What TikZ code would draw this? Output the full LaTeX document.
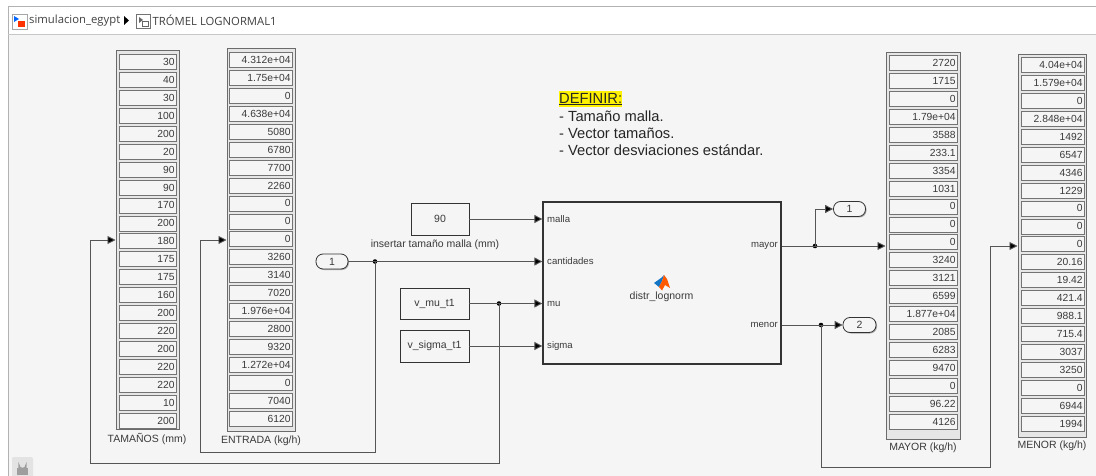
\documentclass[tikz,border=0pt]{standalone}
\usepackage{fontspec}
\setmainfont{Liberation Sans}
\newfontfamily\crumbfont{Open Sans}
\usetikzlibrary{arrows.meta,shadows,calc}
\definecolor{canvasbg}{HTML}{F5F5F5}
\definecolor{inktext}{HTML}{3A3A3A}
\definecolor{wirecol}{HTML}{555555}
\tikzset{
  wire/.style={draw=wirecol,line width=0.9pt},
  arrowwire/.style={wire,-{Triangle[length=8pt,width=8pt,fill=black]}},
  dotn/.style={circle,fill=black,inner sep=0pt,minimum size=4.6pt},
  blockbox/.style={draw=black!80,line width=0.8pt,fill=canvasbg,inner sep=0pt,
    drop shadow={shadow xshift=1pt,shadow yshift=-1pt,fill=black!40,opacity=.8}},
  mainbox/.style={blockbox,line width=1.3pt},
  portbox/.style={blockbox,rounded corners=7pt},
  dispbox/.style={draw=black!58,line width=1pt,fill=canvasbg!94!black,inner sep=0pt,
    drop shadow={shadow xshift=1pt,shadow yshift=-1pt,fill=black!40,opacity=.8}},
  cellbox/.style={draw=black!55,line width=0.7pt,fill=canvasbg,inner sep=0pt},
  valtext/.style={font=\fontsize{10.3}{12}\selectfont,text=inktext,inner sep=0pt,anchor=east},
  smalltext/.style={font=\fontsize{10.5}{12}\selectfont,text=inktext,inner sep=0pt},
  porttext/.style={font=\fontsize{9.6}{12}\selectfont,text=inktext,inner sep=0pt},
  notetext/.style={font=\fontsize{14.7}{17}\selectfont,text=black!85,inner sep=0pt,anchor=west},
  crumbtext/.style={font=\crumbfont\fontsize{11.3}{14}\selectfont,text=black!75,inner sep=0pt,anchor=west},
}
% name, x1, x2, y1, y2, cell x1, cell x2, first centre, values
\newcommand\displayblock[9]{%
  \node[dispbox,minimum width=#3pt-#2pt,minimum height=#5pt-#4pt] (#1) at ({(#2+#3)/2},{(#4+#5)/2}) {};
  \pgfmathsetmacro\cellmid{(#6+#7)/2}
  \pgfmathsetmacro\cellw{#7-#6}
  \foreach \v [count=\i] in {#9} {
    \node[cellbox,minimum width=\cellw pt,minimum height=15pt] (#1-\i) at (\cellmid,{#8+(\i-1)*17.93}) {};
    \node[valtext] (#1-t\i) at ($(#1-\i.east)+(-1.5pt,0)$) {\v};
  }
}
\begin{document}
\begin{tikzpicture}[x=1pt,y=-1pt]
\useasboundingbox (0,0) rectangle (1096,476);
\fill[white] (0,0) rectangle (1096,476);
\fill[canvasbg] (8,35) rectangle (1096,476);
\draw[black!30,line width=1pt] (8,476) -- (8,6.5) -- (1096,6.5);
\draw[black!22,line width=1pt] (8,35) -- (1096,35);
% breadcrumb
\fill[white] (12,14) rectangle (27,29);
\draw[black!35,line width=.6pt] (12,14) rectangle (27,29);
\fill[blue!60!cyan] (14,16) -- (19,19) -- (14,22) -- cycle;
\fill[orange!40!red] (18,21) rectangle (25,27);
\node[crumbtext] (crumbA) at (29,20.5) {simulacion\_egypt};
\fill[black] (124,16) -- (129,20.5) -- (124,25) -- cycle;
\fill[white] (136,14) rectangle (150,28);
\draw[black!55,line width=.6pt] (136,14) rectangle (150,28);
\fill[black!60] (139,17) -- (143,20) -- (139,23) -- cycle;
\draw[black!60,line width=.6pt] (142,21) rectangle (148,26);
\node[crumbtext] (crumbB) at (152.5,20.5) {TRÓMEL LOGNORMAL1};
% lock
\fill[black!11,rounded corners=2pt] (12,457) rectangle (33,480);
\draw[black!38,line width=1.2pt] (19,468) -- (19,465) arc[start angle=180,end angle=0,radius=3.5] -- (26,468);
\fill[black!38] (17,467.5) rectangle (28,475);
% displays
\displayblock{tam}{116}{179}{51}{429}{119}{176}{62}{30,40,30,100,200,20,90,90,170,200,180,175,175,160,200,220,200,220,220,10,200}
\displayblock{ent}{227}{295}{49}{431}{229.5}{292}{60}{4.312e+04,1.75e+04,0,4.638e+04,5080,6780,7700,2260,0,0,0,3260,3140,7020,1.976e+04,2800,9320,1.272e+04,0,7040,6120}
\displayblock{may}{886}{960}{53}{439}{889}{957}{63}{2720,1715,0,1.79e+04,3588,233.1,3354,1031,0,0,0,3240,3121,6599,1.877e+04,2085,6283,9470,0,96.22,4126}
\displayblock{men}{1018}{1086}{55}{437}{1021}{1084}{65}{4.04e+04,1.579e+04,0,2.848e+04,1492,6547,4346,1229,0,0,0,20.16,19.42,421.4,988.1,715.4,3037,3250,0,6944,1994}
\node[smalltext] (ltam) at (147,439) {TAMAÑOS (mm)};
\node[smalltext] (lent) at (261,441) {ENTRADA (kg/h)};
\node[smalltext] (lmay) at (923,448) {MAYOR (kg/h)};
\node[smalltext] (lmen) at (1052,446) {MENOR (kg/h)};
% note
\fill[yellow] (559,91.5) rectangle (622,107);
\node[notetext] (n0) at (559,99) {\underline{DEFINIR:}};
\node[notetext] (n1) at (559,116) {- Tamaño malla.};
\node[notetext] (n2) at (559,133) {- Vector tamaños.};
\node[notetext] (n3) at (559,150) {- Vector desviaciones estándar.};
% blocks
\node[blockbox,minimum width=58pt,minimum height=32pt,smalltext] (b90) at (440,219) {90};
\node[smalltext] (l90) at (435,245) {insertar tamaño malla (mm)};
\node[blockbox,minimum width=69pt,minimum height=31pt,smalltext] (vmu) at (434.5,303.5) {v\_mu\_t1};
\node[blockbox,minimum width=69pt,minimum height=32pt,smalltext] (vsig) at (434.5,346) {v\_sigma\_t1};
\node[mainbox,minimum width=238pt,minimum height=162pt] (main) at (662,283) {};
\node[portbox,minimum width=32pt,minimum height=15pt,smalltext] (in1) at (332,261.5) {1};
\node[portbox,minimum width=32pt,minimum height=15pt,smalltext] (out1) at (849.5,209) {1};
\node[portbox,minimum width=33pt,minimum height=15pt,smalltext] (out2) at (859.5,325) {2};
\node[porttext,anchor=west] (pm) at (547,219.5) {malla};
\node[porttext,anchor=west] (pc) at (547,261.5) {cantidades};
\node[porttext,anchor=west] (pu) at (547,304) {mu};
\node[porttext,anchor=west] (ps) at (547,346) {sigma};
\node[porttext,anchor=east] (pmay) at (778,246) {mayor};
\node[porttext,anchor=east] (pmen) at (778,325) {menor};
\node[smalltext] (fn) at (661.5,297) {distr\_lognorm};
% MATLAB logo
\fill[cyan!55!blue] (654,283) -- (661,278) -- (664,275) -- (662,281) -- (659,287) -- cycle;
\fill[orange!70!red] (664,275) -- (667,279) -- (670,288) -- (665,285) -- (662,290.5) -- (659,287) -- (662,281) -- cycle;
% junctions
\node[dotn] (j1) at (375,261.5) {};
\node[dotn] (j2) at (499,303.5) {};
\node[dotn] (j3) at (815,246) {};
\node[dotn] (j4) at (821,325) {};
\coordinate (fbA) at (90,463);
\coordinate (fbB) at (200,452);
\coordinate (fbC) at (990,467);
% connectors
\draw[arrowwire] (b90.east) -- (b90.east -| main.west);
\draw[arrowwire] (in1.east) -- (in1.east -| main.west);
\draw[arrowwire] (vmu.east) -- (vmu.east -| main.west);
\draw[arrowwire] (vsig.east) -- (vsig.east -| main.west);
\draw[arrowwire] (j1.center) |- (fbB) |- (ent.west);
\draw[arrowwire] (j2.center) |- (fbA) |- (tam.west);
\draw[arrowwire] (j3 -| main.east) -- (may.west);
\draw[arrowwire] (j3.center) |- (out1.west);
\draw[arrowwire] (j4 -| main.east) -- (out2.west);
\draw[arrowwire] (j4.center) |- (fbC) |- (men.west);
\end{tikzpicture}
\end{document}
